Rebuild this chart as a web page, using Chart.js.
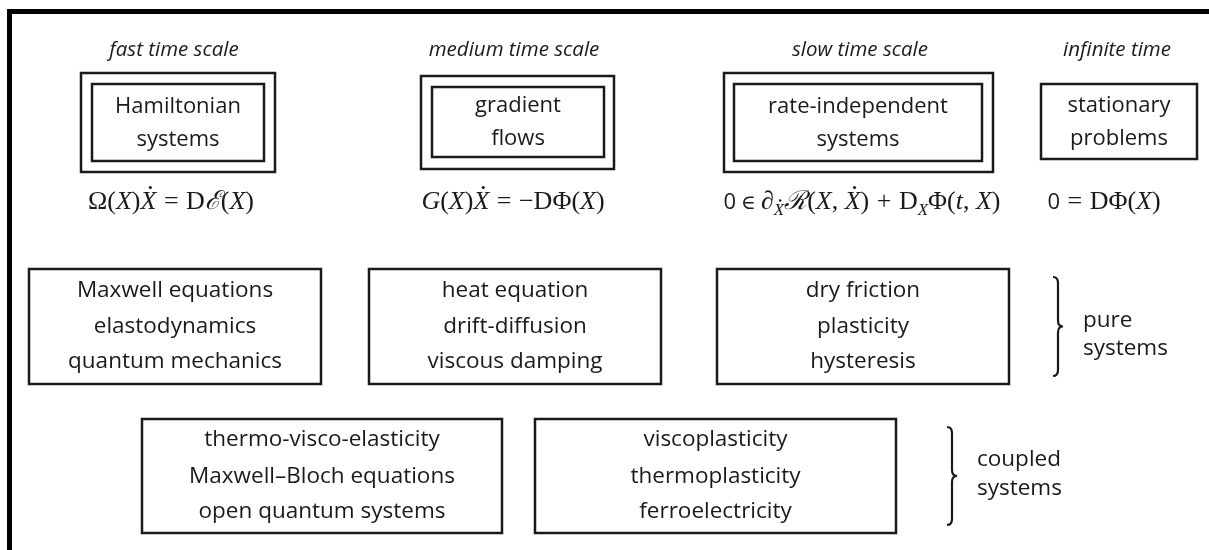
<!DOCTYPE html>
<html>
<head>
<meta charset="utf-8">
<script src="https://cdn.jsdelivr.net/npm/chart.js@4"></script>
<style>
  body { margin: 0; background: #fff; }
  #wrap { width: 1209px; height: 550px; }
</style>
</head>
<body>
<div id="wrap"><canvas id="diagram"></canvas></div>
<script>
// diagram data (in diagram units, mapped through the chart scales)
const headers = ['fast time scale', 'medium time scale', 'slow time scale', 'infinite time'];
const headerX = [174, 514, 860, 1117];
const headerY = 50;

const topLabels = [['Hamiltonian', 'systems'], ['gradient', 'flows'], ['rate-independent', 'systems'], ['stationary', 'problems']];
const topOuter = [[81, 275, 73, 172], [421, 614, 76, 169], [724, 993, 73, 172], null];
const topInner = [[92, 264, 84, 161], [432, 604, 87, 157], [734, 982, 84, 161], [1041, 1197, 84, 159]];

// equations: [text, style]  r=roman  i=italic  d=italic with dot  s=subscript italic
// sd=subscript italic dotted  o=relation/operator with space  e=small relation  n=sans digit
const equations = [
  [['Ω(', 'r'], ['X', 'i'], [')', 'r'], ['X', 'd'], ['=', 'o'], ['D', 'r'], ['ℰ', 'i'], ['(', 'r'], ['X', 'i'], [')', 'r']],
  [['G', 'i'], ['(', 'r'], ['X', 'i'], [')', 'r'], ['X', 'd'], ['=', 'o'], ['−DΦ(', 'r'], ['X', 'i'], [')', 'r']],
  [['0', 'n'], ['∈', 'e'], ['∂', 'r'], ['X', 'sd'], ['ℛ', 'i'], ['(', 'r'], ['X', 'i'], [', ', 'r'], ['X', 'd'], [')', 'r'], ['+', 'o'], ['D', 'r'], ['X', 's'], ['Φ(', 'r'], ['t', 'i'], [', ', 'r'], ['X', 'i'], [')', 'r']],
  [['0', 'n'], ['=', 'o'], ['DΦ(', 'r'], ['X', 'i'], [')', 'r']]
];
const equationX = [171, 513, 862, 1104];
const equationY = 209;

const pureLabels = [['Maxwell equations', 'elastodynamics', 'quantum mechanics'], ['heat equation', 'drift-diffusion', 'viscous damping'], ['dry friction', 'plasticity', 'hysteresis']];
const pureBoxes = [[29, 321, 269, 384], [369, 661, 269, 384], [717, 1009, 269, 384]];
const pureLineY = [291, 327, 362];

const coupledLabels = [['thermo-visco-elasticity', 'Maxwell–Bloch equations', 'open quantum systems'], ['viscoplasticity', 'thermoplasticity', 'ferroelectricity']];
const coupledBoxes = [[142, 502, 419, 533], [535, 896, 419, 533]];
const coupledLineY = [440, 477, 512];

const braces = [[1053, 1063, 277, 376], [947, 957, 427, 525]];
const braceLabels = [['pure', 'systems'], ['coupled', 'systems']];
const braceLabelX = [1083, 977];
const braceLabelY = [[321, 349], [460, 489]];

const frameLeft = 9.5;
const frameTop = 11.5;

const SANS = '"Open Sans", "Noto Sans", sans-serif';
const SERIF = '"Liberation Serif", "DejaVu Serif", serif';
const INK = '#1a1a1a';

const diagramPlugin = {
  id: 'diagram',
  afterDatasetsDraw(chart) {
    const ctx = chart.ctx;
    const sx = chart.scales.x, sy = chart.scales.y;
    const px = v => sx.getPixelForValue(v);
    const py = v => sy.getPixelForValue(v);

    function rect(b, lw) {
      ctx.lineWidth = lw;
      ctx.strokeStyle = INK;
      ctx.strokeRect(px(b[0]), py(b[2]), px(b[1]) - px(b[0]), py(b[3]) - py(b[2]));
    }
    function lines(txt, cx, ys, font) {
      ctx.font = font;
      ctx.fillStyle = INK;
      ctx.textAlign = 'center';
      ctx.textBaseline = 'middle';
      txt.forEach((t, i) => ctx.fillText(t, px(cx), py(ys[i])));
    }

    ctx.save();

    // frame
    ctx.lineWidth = 5;
    ctx.strokeStyle = '#000';
    ctx.beginPath();
    ctx.moveTo(px(frameLeft), py(550));
    ctx.lineTo(px(frameLeft), py(frameTop));
    ctx.lineTo(px(1209), py(frameTop));
    ctx.stroke();

    // headers
    ctx.font = 'italic 20.5px ' + SANS;
    ctx.fillStyle = INK;
    ctx.textAlign = 'center';
    ctx.textBaseline = 'middle';
    headers.forEach((h, i) => ctx.fillText(h, px(headerX[i]), py(headerY)));

    // top boxes
    topInner.forEach((b, i) => {
      if (topOuter[i]) rect(topOuter[i], 2.5);
      rect(b, 2.5);
      const cx = (b[0] + b[1]) / 2, cy = (b[2] + b[3]) / 2;
      lines(topLabels[i], cx, [cy - 16, cy + 17], '22px ' + SANS);
    });

    // equations
    equations.forEach((eq, i) => {
      const parts = eq.map(([t, s]) => {
        const sub = s === 's' || s === 'sd';
        let font;
        if (s === 'n') font = '22px ' + SANS;
        else if (s === 'e') font = '20px ' + SERIF;
        else font = ((s === 'r' || s === 'o') ? '' : 'italic ') + (sub ? '17px ' : '26px ') + SERIF;
        ctx.font = font;
        const pad = s === 'o' ? 7.5 : (s === 'e' ? 5 : 0);
        return { t, s, sub, font, pad, w: ctx.measureText(t).width };
      });
      const total = parts.reduce((a, p) => a + p.w + 2 * p.pad, 0);
      let x = px(equationX[i]) - total / 2;
      const base = py(equationY);
      ctx.textAlign = 'left';
      ctx.textBaseline = 'alphabetic';
      ctx.fillStyle = INK;
      parts.forEach(p => {
        ctx.font = p.font;
        x += p.pad;
        const y = p.sub ? base + 6 : base;
        ctx.fillText(p.t, x, y);
        if (p.s === 'd' || p.s === 'sd') {
          const r = p.sub ? 1.2 : 1.6;
          ctx.beginPath();
          ctx.arc(x + p.w * 0.62, y - (p.sub ? 14.5 : 21.5), r, 0, Math.PI * 2);
          ctx.fill();
        }
        x += p.w + p.pad;
      });
    });

    // pure systems row
    pureBoxes.forEach((b, i) => {
      rect(b, 2.5);
      lines(pureLabels[i], (b[0] + b[1]) / 2, pureLineY, '22.5px ' + SANS);
    });

    // coupled systems row
    coupledBoxes.forEach((b, i) => {
      rect(b, 2.5);
      lines(coupledLabels[i], (b[0] + b[1]) / 2, coupledLineY, '22.5px ' + SANS);
    });

    // braces
    braces.forEach((br, i) => {
      const a = px(br[0]), w = px(br[1]) - a, t = py(br[2]), b = py(br[3]);
      const m = (t + b) / 2, mx = a + w / 2, r = 6;
      ctx.lineWidth = 2.2;
      ctx.strokeStyle = INK;
      ctx.beginPath();
      ctx.moveTo(a, t);
      ctx.quadraticCurveTo(mx, t, mx, t + r);
      ctx.lineTo(mx, m - r);
      ctx.quadraticCurveTo(mx, m, a + w, m);
      ctx.quadraticCurveTo(mx, m, mx, m + r);
      ctx.lineTo(mx, b - r);
      ctx.quadraticCurveTo(mx, b, a, b);
      ctx.stroke();

      ctx.font = '22.5px ' + SANS;
      ctx.textAlign = 'left';
      ctx.textBaseline = 'middle';
      braceLabels[i].forEach((t2, j) => ctx.fillText(t2, px(braceLabelX[i]), py(braceLabelY[i][j])));
    });

    ctx.restore();
  }
};

new Chart(document.getElementById('diagram'), {
  type: 'scatter',
  data: { datasets: [{ data: [], pointRadius: 0 }] },
  options: {
    responsive: true,
    maintainAspectRatio: false,
    animation: false,
    layout: { padding: 0 },
    plugins: { legend: { display: false }, tooltip: { enabled: false } },
    scales: {
      x: { type: 'linear', min: 0, max: 1209, display: false },
      y: { type: 'linear', min: 0, max: 550, reverse: true, display: false }
    }
  },
  plugins: [diagramPlugin]
});
</script>
</body>
</html>
